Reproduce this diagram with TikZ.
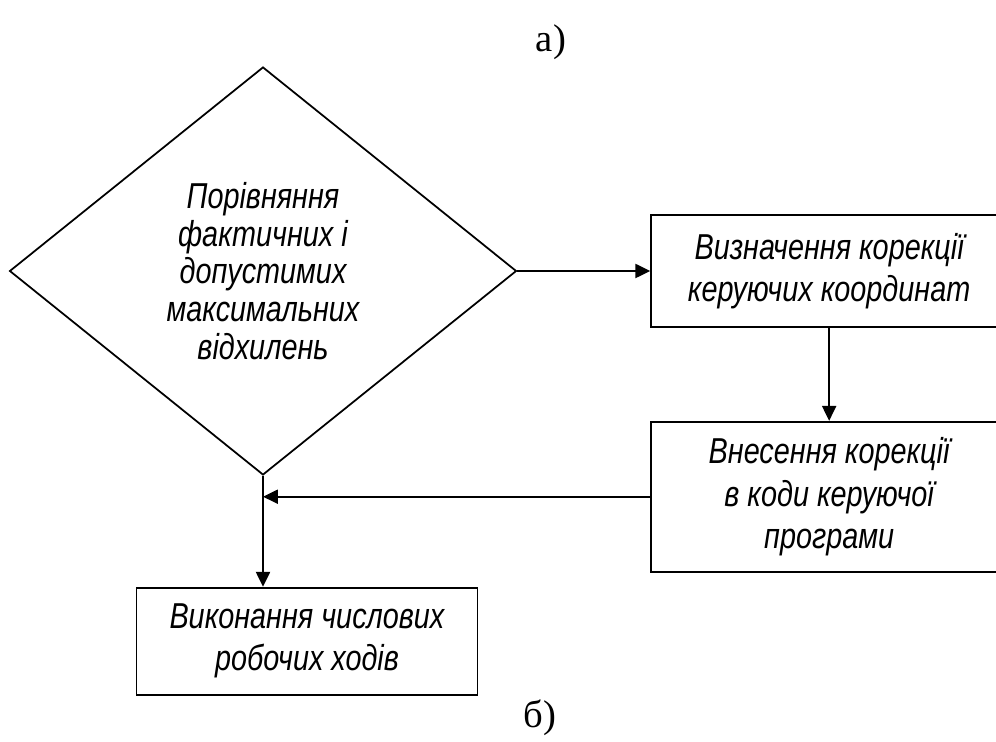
\documentclass[tikz,border=0pt]{standalone}
\usepackage{fontspec}
\setmainfont{Liberation Serif}
\newfontfamily\gostfont[FakeStretch=0.8]{Liberation Sans}
\usetikzlibrary{arrows.meta,positioning,shapes.geometric}

\begin{document}
\begin{tikzpicture}[x=0.02cm,y=-0.02cm,->,>={Triangle[length=8.5pt,width=8pt]},
			line width=1.1pt,
			block node/.style={rectangle,draw,line width=1pt,inner sep=0pt,align=center,
				font=\gostfont\itshape\fontsize{20.5}{24}\selectfont},
			cmp node/.style={diamond,draw,line width=1pt,inner sep=0pt,align=center,
				minimum width=10.14cm,minimum height=8.16cm,
				font=\gostfont\itshape\fontsize{20.5}{21.5}\selectfont},
			tag node/.style={font=\fontsize{22}{24}\selectfont}
			]
			
			\clip (0,0) rectangle (996,742);
			
			\node[cmp node] (CMP) at (263,271) {Порівняння\\фактичних і\\допустимих\\максимальних\\відхилень};
			\node[block node,minimum width=7.12cm,minimum height=2.24cm] (DEF) [right=2.66cm of CMP] {Визначення корекції\\керуючих координат};
			\node[block node,minimum width=7.12cm,minimum height=3cm] (COR) [below=1.86cm of DEF] {Внесення корекції\\в коди керуючої\\програми};
			\node[block node,minimum width=6.82cm,minimum height=2.14cm] (RUN) [below=2.22cm of CMP,xshift=0.88cm] {Виконання числових\\робочих ходів};
			\coordinate (J) at (CMP.south |- COR.west);
			
			\node[tag node] (TA) at (551,42) {а)};
			\node[tag node] (TB) at (540,718) {б)};
			
			\path
			(CMP) edge (DEF)
			(DEF) edge (COR)
			(COR.west) edge (J)
			(CMP.south) edge (CMP.south |- RUN.north)
			;
			
		\end{tikzpicture}
\end{document}
